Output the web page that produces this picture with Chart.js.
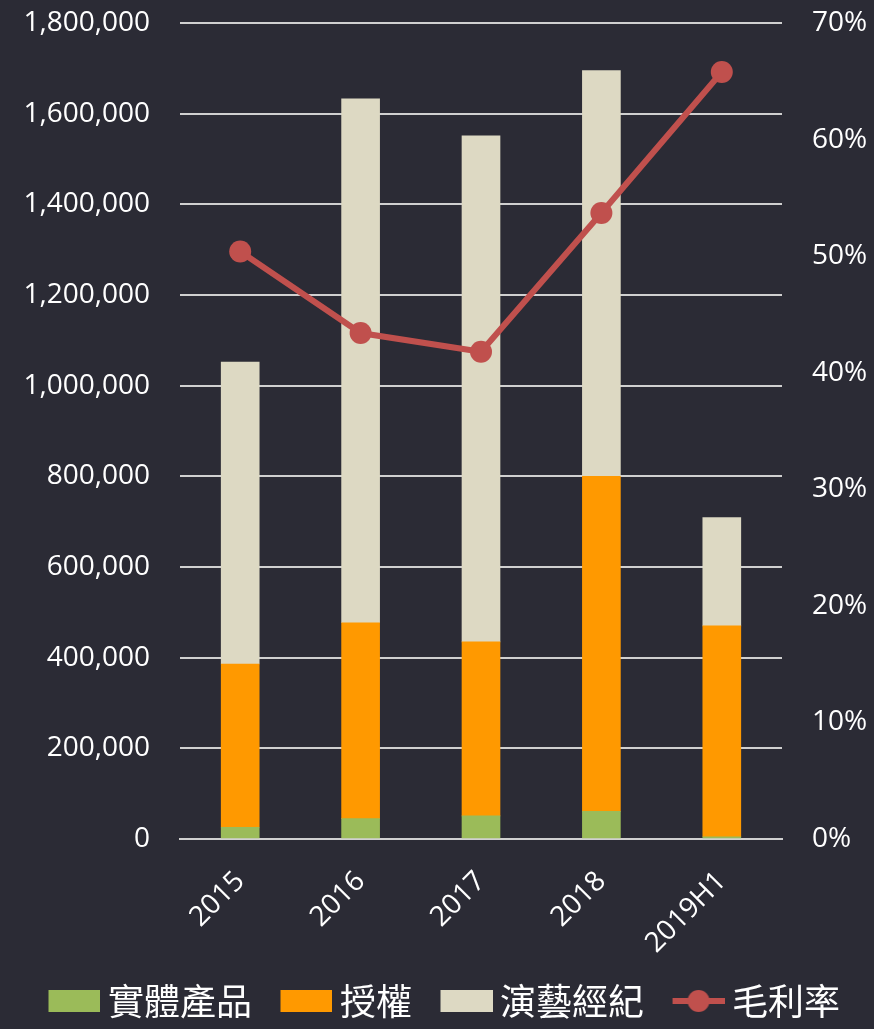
<!DOCTYPE html>
<html>
<head>
<meta charset="utf-8">
<script src="https://cdn.jsdelivr.net/npm/chart.js@4.4.0/dist/chart.umd.min.js"></script>
<style>
  html, body { margin: 0; padding: 0; background: #2b2b35; }
  #wrap { width: 874px; height: 1029px; }
</style>
</head>
<body>
<div id="wrap"><canvas id="chart" width="874" height="1029"></canvas></div>
<script>
// data
const years = ['2015', '2016', '2017', '2018', '2019H1'];
const physical = [26000, 45000, 51000, 61000, 5000];        // 實體產品
const licensing = [360000, 432000, 384000, 739000, 465000]; // 授權
const artist = [666000, 1156000, 1116000, 895000, 239000];  // 演藝經紀
const grossMargin = [0.504, 0.434, 0.418, 0.537, 0.658];    // 毛利率
const leftTicks = [0, 200000, 400000, 600000, 800000, 1000000, 1200000, 1400000, 1600000, 1800000];
const rightTicks = [0, 0.1, 0.2, 0.3, 0.4, 0.5, 0.6, 0.7];

const GREEN = '#9bbb59';
const ORANGE = '#ff9900';
const BEIGE = '#ddd9c3';
const RED = '#c0504d';
const TEXT = '#ffffff';
const GRID = '#d0d0d0';

// legend swatches: swatch sits at the right end of a wider canvas,
// so it lands close to its text and far from the previous item
function swatch(color, isLine) {
  const c = document.createElement('canvas');
  c.width = 77; c.height = 26;
  const g = c.getContext('2d');
  if (isLine) {
    g.strokeStyle = color;
    g.lineWidth = 6;
    g.beginPath(); g.moveTo(25, 13); g.lineTo(77, 13); g.stroke();
    g.fillStyle = color;
    g.beginPath(); g.arc(51, 13, 11, 0, Math.PI * 2); g.fill();
  } else {
    g.fillStyle = color;
    g.fillRect(25, 2, 52, 22);
  }
  return c;
}
const swatches = [swatch(GREEN), swatch(ORANGE), swatch(BEIGE), swatch(RED, true)];

const tickFont = { family: '"Open Sans", "Noto Sans", sans-serif', size: 28 };

new Chart(document.getElementById('chart'), {
  data: {
    labels: years,
    datasets: [
      { type: 'line', label: '毛利率', data: grossMargin, yAxisID: 'y1', order: 0,
        borderColor: RED, backgroundColor: RED, borderWidth: 6,
        pointRadius: 11, pointHoverRadius: 11, pointBackgroundColor: RED, pointBorderWidth: 0 },
      { type: 'bar', label: '實體產品', data: physical, backgroundColor: GREEN, order: 1, barThickness: 38 },
      { type: 'bar', label: '授權', data: licensing, backgroundColor: ORANGE, order: 1, barThickness: 38 },
      { type: 'bar', label: '演藝經紀', data: artist, backgroundColor: BEIGE, order: 1, barThickness: 38 }
    ]
  },
  options: {
    responsive: false,
    animation: false,
    layout: { padding: { top: 23, left: 0, right: 0, bottom: 0 } },
    plugins: {
      tooltip: { enabled: false },
      legend: {
        position: 'bottom',
        labels: {
          color: TEXT,
          font: { family: '"Noto Sans CJK TC", sans-serif', size: 36 },
          usePointStyle: true,
          pointStyleWidth: 56,
          padding: 14,
          generateLabels(chart) {
            const order = [1, 2, 3, 0];
            return order.map((di, i) => ({
              text: chart.data.datasets[di].label,
              fontColor: TEXT,
              pointStyle: swatches[i],
              datasetIndex: di,
              hidden: false,
              lineWidth: 0
            }));
          }
        }
      }
    },
    scales: {
      x: {
        stacked: true,
        grid: { display: false, drawTicks: false },
        border: { display: true, color: GRID, width: 2 },
        ticks: { color: TEXT, font: tickFont, minRotation: 45, maxRotation: 45, padding: 26 },
        afterFit(s) { s.height = 130; }
      },
      y: {
        stacked: true,
        position: 'left',
        min: 0, max: 1800000,
        afterBuildTicks(s) { s.ticks = leftTicks.map(v => ({ value: v })); },
        grid: { color: GRID, lineWidth: 2, drawTicks: true, tickLength: 30, tickColor: 'rgba(0,0,0,0)' },
        border: { display: false },
        ticks: { color: TEXT, font: tickFont, padding: 0,
          callback: v => v.toLocaleString('en-US') },
        afterFit(s) { s.width = 180; }
      },
      y1: {
        position: 'right',
        min: 0, max: 0.7,
        afterBuildTicks(s) { s.ticks = rightTicks.map(v => ({ value: v })); },
        grid: { display: true, drawOnChartArea: false, drawTicks: true, tickLength: 30, tickColor: 'rgba(0,0,0,0)' },
        border: { display: false },
        ticks: { color: TEXT, font: tickFont, padding: 0,
          callback: v => Math.round(v * 100) + '%' },
        afterFit(s) { s.width = 92; }
      }
    }
  }
});
</script>
</body>
</html>
